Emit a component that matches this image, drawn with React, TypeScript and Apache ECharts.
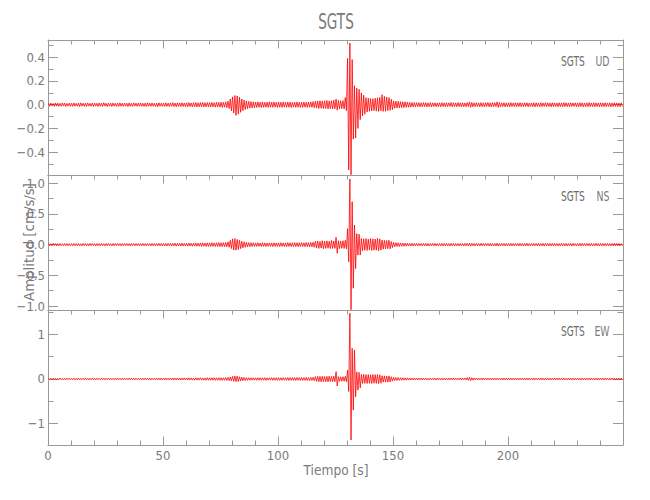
import React, { useEffect, useRef } from "react";
import * as echarts from "echarts";

// Peak (max) and trough (min) amplitude of each 1-second window, in thousandths of cm/s/s.
const UD_MAX = [
  12,14,11,15,13,12,16,13,11,14, 13,15,12,14,16,12,13,15,11,14,
  14,12,15,13,17,12,14,13,15,12, 13,16,12,14,13,15,12,16,13,14,
  15,12,14,17,13,15,12,14,16,13, 14,16,13,15,18,14,16,15,17,14,
  16,18,15,17,19,16,18,20,17,19, 18,20,17,21,19,22,20,24,30,48,
  66,78,74,62,48,38,32,28,26,24, 22,24,21,23,20,22,24,21,23,20,
  22,21,24,20,23,22,19,21,24,20, 21,23,20,22,24,26,30,32,34,31,
  33,36,32,34,38,48,36,34,35,60, 390,520,380,160,140,130,100,80,60,55,
  52,50,55,58,62,84,70,65,60,45, 32,30,28,26,25,24,22,20,19,18,
  17,18,16,19,17,15,18,16,17,15, 16,18,15,17,16,19,17,15,18,16,
  17,15,18,24,19,16,17,15,18,16, 17,19,16,18,17,24,18,16,17,15,
  16,18,15,17,16,18,15,17,16,14, 15,17,16,14,18,15,17,16,15,17,
  16,14,17,15,18,16,14,17,15,16, 15,17,16,14,16,18,15,17,16,14,
  16,15,17,14,16,15,17,16,15,16,
];
const UD_MIN = [
  -13,-11,-15,-12,-14,-13,-11,-15,-12,-13, -14,-12,-13,-16,-12,-14,-15,-12,-13,-14,
  -12,-15,-13,-14,-12,-16,-13,-15,-12,-14, -15,-13,-14,-12,-16,-13,-15,-12,-14,-13,
  -13,-15,-16,-12,-14,-13,-15,-17,-13,-14, -15,-14,-16,-13,-15,-17,-14,-16,-15,-17,
  -17,-15,-18,-16,-19,-17,-16,-19,-18,-17, -19,-18,-21,-19,-20,-23,-21,-25,-32,-52,
  -70,-90,-80,-64,-50,-40,-33,-29,-27,-25, -23,-21,-24,-22,-20,-23,-21,-22,-20,-23,
  -21,-23,-20,-22,-21,-24,-20,-22,-21,-23, -22,-20,-23,-21,-22,-25,-28,-32,-30,-34,
  -32,-35,-33,-36,-34,-46,-35,-33,-36,-50, -550,-590,-290,-280,-200,-126,-95,-80,-62,-55,
  -52,-50,-54,-56,-52,-56,-55,-50,-48,-42, -30,-28,-27,-25,-24,-22,-21,-20,-18,-17,
  -16,-18,-17,-15,-19,-16,-18,-15,-17,-16, -18,-15,-17,-16,-14,-18,-16,-17,-15,-18,
  -16,-17,-15,-22,-18,-16,-15,-17,-16,-18, -15,-17,-18,-16,-15,-22,-17,-15,-18,-16,
  -17,-15,-16,-18,-15,-17,-16,-14,-17,-15, -16,-18,-15,-17,-16,-14,-17,-15,-18,-16,
  -15,-17,-16,-18,-15,-16,-17,-15,-14,-17, -16,-15,-18,-16,-17,-15,-16,-18,-15,-17,
  -15,-17,-16,-15,-18,-16,-15,-17,-16,-15,
];
const NS_MAX = [
  18,15,20,17,16,19,15,18,17,16, 17,19,16,18,15,20,17,16,19,18,
  16,18,17,20,15,18,19,16,17,18, 19,16,18,17,20,16,18,19,17,16,
  18,20,17,19,16,21,18,17,20,19, 20,18,22,19,21,24,20,22,25,21,
  23,26,22,25,28,24,27,30,26,29, 28,32,27,30,34,30,33,36,45,70,
  95,100,85,70,55,45,38,34,32,30, 28,30,27,32,29,26,30,28,31,27,
  29,32,28,30,33,29,31,34,30,32, 33,30,35,32,36,40,55,60,52,65,
  58,62,55,68,60,120,62,58,65,70, 260,1070,700,320,180,170,100,95,100,90,
  100,95,90,105,95,75,70,68,72,50, 35,32,30,28,26,25,24,22,21,20,
  19,21,18,20,22,19,18,21,20,19, 18,20,19,22,18,20,21,19,18,20,
  19,21,20,26,22,19,20,18,21,19, 20,18,21,19,20,23,19,21,18,20,
  19,21,18,20,19,22,18,20,21,19, 18,20,19,21,18,20,22,19,18,21,
  20,19,18,21,20,18,19,22,20,18, 19,21,20,18,21,19,20,18,22,19,
  20,18,21,19,18,20,21,19,20,18,
];
const NS_MIN = [
  -17,-19,-15,-18,-20,-16,-18,-15,-19,-17, -18,-16,-19,-17,-20,-16,-18,-19,-15,-17,
  -19,-17,-18,-16,-20,-17,-15,-19,-18,-16, -17,-19,-16,-18,-15,-20,-17,-18,-16,-19,
  -18,-17,-20,-16,-19,-18,-21,-17,-19,-20, -19,-21,-18,-22,-20,-23,-21,-24,-22,-23,
  -24,-22,-26,-24,-27,-25,-28,-26,-29,-27, -30,-28,-31,-29,-33,-31,-34,-35,-42,-65,
  -88,-90,-80,-65,-52,-42,-36,-33,-30,-28, -29,-27,-31,-28,-30,-27,-29,-31,-28,-30,
  -31,-28,-30,-32,-29,-31,-33,-30,-32,-31, -30,-33,-31,-34,-35,-42,-55,-62,-55,-66,
  -60,-58,-64,-62,-60,-140,-65,-60,-62,-68, -280,-1060,-710,-390,-170,-170,-100,-92,-95,-88,
  -95,-90,-92,-98,-90,-72,-70,-66,-68,-48, -34,-31,-29,-27,-26,-24,-23,-22,-21,-20,
  -20,-18,-21,-19,-20,-22,-18,-19,-21,-20, -19,-21,-18,-20,-22,-19,-20,-18,-21,-19,
  -20,-18,-21,-25,-19,-20,-18,-21,-19,-20, -18,-21,-19,-20,-22,-24,-20,-18,-21,-19,
  -21,-19,-20,-18,-21,-19,-22,-18,-20,-19, -20,-18,-21,-19,-20,-22,-18,-20,-19,-21,
  -19,-21,-20,-18,-19,-21,-20,-22,-18,-20, -21,-19,-18,-20,-19,-21,-18,-20,-19,-21,
  -19,-20,-18,-21,-20,-19,-18,-20,-21,-19,
];
const EW_MAX = [
  18,16,20,17,15,19,18,16,20,17, 16,19,17,21,18,16,19,17,20,18,
  17,20,16,18,19,17,21,18,16,19, 20,17,19,16,18,21,17,19,18,16,
  19,18,21,17,20,18,16,20,19,22, 20,22,19,23,21,20,24,22,21,25,
  23,26,24,22,27,25,28,26,24,29, 27,30,28,26,31,29,28,32,34,45,
  60,70,65,50,40,34,30,28,27,29, 26,28,30,27,29,26,28,31,27,29,
  30,28,31,29,32,30,33,31,34,32, 33,31,35,33,36,38,55,60,58,62,
  56,60,64,58,62,165,55,50,52,60, 200,1480,690,650,160,150,100,105,98,100,
  95,102,98,100,95,72,70,68,70,50, 36,34,32,30,28,26,25,24,22,21,
  20,22,19,21,20,18,21,20,19,22, 20,19,21,18,20,22,19,21,20,23,
  21,24,30,40,28,22,20,21,19,22, 20,21,19,22,20,18,21,20,22,19,
  21,19,20,22,18,20,21,19,20,22, 19,21,20,18,22,20,19,21,20,18,
  21,20,22,19,20,18,21,22,19,20, 20,19,21,20,18,22,20,19,21,20,
  22,19,20,21,19,20,22,19,20,21,
];
const EW_MIN = [
  -17,-19,-16,-20,-18,-16,-19,-17,-15,-18, -19,-17,-20,-16,-18,-19,-17,-20,-16,-18,
  -18,-16,-19,-17,-20,-18,-16,-19,-17,-20, -16,-18,-20,-17,-19,-16,-18,-20,-17,-19,
  -18,-20,-17,-19,-21,-18,-20,-19,-22,-20, -21,-19,-22,-20,-23,-21,-22,-24,-22,-23,
  -24,-22,-25,-27,-24,-26,-25,-28,-27,-26, -28,-27,-30,-28,-29,-31,-30,-32,-35,-42,
  -52,-60,-58,-46,-38,-33,-30,-28,-26,-27, -28,-26,-29,-27,-30,-28,-26,-29,-28,-30,
  -29,-31,-28,-30,-32,-29,-31,-33,-30,-32, -34,-31,-33,-35,-32,-38,-52,-60,-62,-58,
  -60,-63,-58,-62,-60,-157,-54,-52,-50,-62, -280,-1370,-700,-400,-250,-200,-100,-98,-102,-96,
  -100,-96,-98,-102,-95,-70,-68,-72,-66,-48, -35,-33,-31,-29,-27,-26,-24,-23,-22,-21,
  -21,-19,-22,-20,-18,-21,-20,-19,-22,-20, -19,-21,-20,-22,-19,-20,-21,-18,-20,-22,
  -20,-22,-28,-38,-26,-21,-19,-20,-22,-19, -21,-19,-22,-20,-21,-19,-20,-22,-19,-21,
  -20,-22,-19,-21,-20,-18,-22,-20,-21,-19, -22,-20,-19,-21,-20,-22,-19,-20,-21,-19,
  -20,-22,-19,-21,-20,-19,-22,-20,-21,-19, -21,-19,-20,-22,-19,-21,-20,-19,-22,-20,
  -20,-21,-19,-22,-20,-19,-21,-20,-19,-22,
];

const STATION = "SGTS";
const COMPONENTS = ["UD", "NS", "EW"];
const X_RANGE = [0, 250];
const X_LABELS = [0, 50, 100, 150, 200];
const UD_RANGE = [-0.592, 0.545];
const NS_RANGE = [-1.065, 1.135];
const EW_RANGE = [-1.483, 1.55];
const UD_TICKS = [-0.4, -0.2, 0, 0.2, 0.4];
const UD_MINOR = [-0.5, -0.3, -0.1, 0.1, 0.3, 0.5];
const NS_TICKS = [-1, -0.5, 0, 0.5, 1];
const NS_MINOR = [-0.75, -0.25, 0.25, 0.75];
const EW_TICKS = [-1, 0, 1];
const EW_MINOR = [-0.5, 0.5, 1.5];

const FONT = '"Liberation Sans Narrow", "DejaVu Sans Condensed", "Liberation Sans", sans-serif';
const TXT = "#7a7a7a";
const AX = "#9a9a9a";

function trace(maxs: number[], mins: number[]) {
  const pts: number[][] = [];
  for (let i = 0; i < maxs.length; i++) {
    pts.push([i + 0.25, maxs[i] / 1000]);
    pts.push([i + 0.75, mins[i] / 1000]);
  }
  return pts;
}

const fmtMinus = (s: string) => s.replace("-", "\u2212");

export default function App() {
  const ref = useRef<HTMLDivElement>(null);
  useEffect(() => {
    if (!ref.current) return;
    const chart = echarts.init(ref.current, null, { renderer: "svg" });
    const panels = [
      { max: UD_MAX, min: UD_MIN, range: UD_RANGE, ticks: UD_TICKS, minor: UD_MINOR, dec: 1 },
      { max: NS_MAX, min: NS_MIN, range: NS_RANGE, ticks: NS_TICKS, minor: NS_MINOR, dec: 1 },
      { max: EW_MAX, min: EW_MIN, range: EW_RANGE, ticks: EW_TICKS, minor: EW_MINOR, dec: 0 },
    ];
    const top0 = 40, h = 135, left = 48, right = 27;
    const grid: any[] = [], xAxis: any[] = [], yAxis: any[] = [], series: any[] = [], graphic: any[] = [];
    panels.forEach((p, g) => {
      grid.push({ left, right, top: top0 + g * h, height: h });
      const last = g === panels.length - 1;
      const xBase = {
        type: "value", gridIndex: g, min: X_RANGE[0], max: X_RANGE[1], interval: 50,
        axisLine: { show: true, onZero: false, lineStyle: { color: AX, width: 1 } },
        splitLine: { show: false },
      };
      xAxis.push({
        ...xBase, position: "bottom",
        axisTick: { show: last, inside: true, length: 8.5, lineStyle: { color: AX } },
        minorTick: { show: last, splitNumber: 5, length: 4.5, lineStyle: { color: AX } },
        axisLabel: {
          show: last, color: TXT, fontFamily: FONT, fontSize: 13, margin: 4,
          formatter: (v: number) => (X_LABELS.indexOf(v) >= 0 ? String(v) : ""),
        },
      });
      xAxis.push({
        ...xBase, position: "top",
        axisTick: { show: true, inside: true, length: 8.5, lineStyle: { color: AX } },
        minorTick: { show: true, splitNumber: 5, length: 4.5, lineStyle: { color: AX } },
        axisLabel: { show: false },
      });
      const yBase = {
        type: "value", gridIndex: g, min: p.range[0], max: p.range[1],
        splitLine: { show: false },
      };
      const fmt = (v: number) => fmtMinus(v.toFixed(p.dec));
      yAxis.push({
        ...yBase, position: "left",
        axisLine: { show: true, onZero: false, lineStyle: { color: AX } },
        axisTick: { show: true, inside: true, length: 10, customValues: p.ticks, lineStyle: { color: AX } },
        axisLabel: { show: true, customValues: p.ticks, formatter: fmt, color: TXT, fontFamily: FONT, fontSize: 13, margin: 3 },
      });
      yAxis.push({
        ...yBase, position: "left",
        axisLine: { show: false, onZero: false },
        axisTick: { show: true, inside: true, length: 5.5, customValues: p.minor, lineStyle: { color: AX } },
        axisLabel: { show: false },
      });
      yAxis.push({
        ...yBase, position: "right",
        axisLine: { show: true, onZero: false, lineStyle: { color: AX } },
        axisTick: { show: true, inside: true, length: 10, customValues: p.ticks, lineStyle: { color: AX } },
        axisLabel: { show: false },
      });
      yAxis.push({
        ...yBase, position: "right",
        axisLine: { show: false, onZero: false },
        axisTick: { show: true, inside: true, length: 5.5, customValues: p.minor, lineStyle: { color: AX } },
        axisLabel: { show: false },
      });
      series.push({
        type: "line", xAxisIndex: g * 2, yAxisIndex: g * 4,
        data: trace(p.max, p.min), showSymbol: false, symbol: "none", silent: true,
        lineStyle: { color: "#ff0000", width: 0.8 },
      });
      const cy = top0 + g * h + 21;
      graphic.push({
        type: "text", x: 561, y: cy, scaleX: 0.72,
        style: { text: STATION, font: `14px ${FONT}`, fill: "#6a6a6a", align: "left", verticalAlign: "middle", textAlign: "left", textVerticalAlign: "middle" },
      });
      graphic.push({
        type: "text", x: 609.5, y: cy, scaleX: 0.74,
        style: { text: COMPONENTS[g], font: `14px ${FONT}`, fill: "#7a7a7a", align: "right", verticalAlign: "middle", textAlign: "right", textVerticalAlign: "middle" },
      });
    });
    graphic.push({
      type: "text", x: 336, y: 22, scaleX: 0.72,
      style: { text: STATION, font: `21px ${FONT}`, fill: TXT, align: "center", verticalAlign: "middle", textAlign: "center", textVerticalAlign: "middle" },
    });
    graphic.push({
      type: "text", x: 29, y: 242, rotation: Math.PI / 2, scaleX: 1.06,
      style: { text: "Amplitud [cm/s/s]", font: `14px ${FONT}`, fill: TXT, align: "center", verticalAlign: "middle", textAlign: "center", textVerticalAlign: "middle" },
    });
    graphic.push({
      type: "text", x: 336, y: 470, scaleX: 0.97,
      style: { text: "Tiempo [s]", font: `14px ${FONT}`, fill: TXT, align: "center", verticalAlign: "middle", textAlign: "center", textVerticalAlign: "middle" },
    });
    chart.setOption({
      animation: false,
      backgroundColor: "#ffffff",
      grid, xAxis, yAxis, series, graphic,
    });
    return () => chart.dispose();
  }, []);
  return <div ref={ref} style={{ position: "absolute", left: 0, top: 0, width: 650, height: 500 }} />;
}
